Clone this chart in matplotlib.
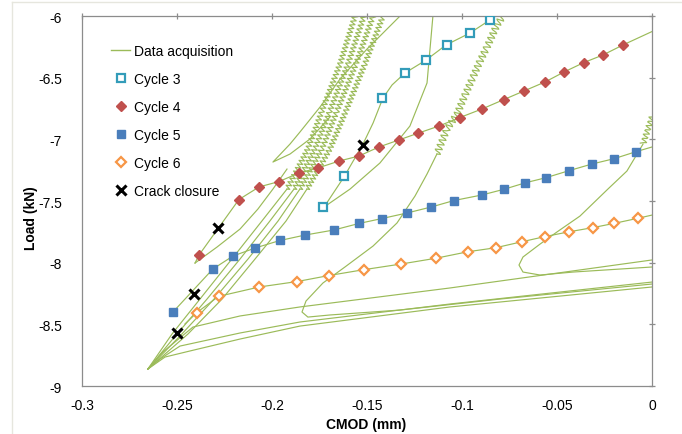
import matplotlib
matplotlib.use('Agg')
import matplotlib.pyplot as plt
from matplotlib.lines import Line2D

plt.rcParams['font.family'] = ['Liberation Sans', 'DejaVu Sans']
plt.rcParams['axes.unicode_minus'] = False

# ---- cycle markers (CMOD in mm, load in kN) ----
cyc3_x = [-0.173, -0.162, -0.142, -0.130, -0.119, -0.108, -0.096, -0.085]
cyc3_y = [-7.55, -7.30, -6.665, -6.46, -6.36, -6.235, -6.14, -6.03]

cyc4_x = [-0.2384, -0.2174, -0.2068, -0.1963, -0.1858, -0.1758, -0.1647, -0.1542,
          -0.1437, -0.1332, -0.1229, -0.1121, -0.1011, -0.0895, -0.0779, -0.0674,
          -0.0563, -0.0463, -0.0358, -0.0258, -0.0153]
cyc4_y = [-7.938, -7.488, -7.386, -7.342, -7.273, -7.232, -7.176, -7.135,
          -7.062, -7.005, -6.949, -6.892, -6.823, -6.754, -6.677, -6.608,
          -6.535, -6.454, -6.377, -6.316, -6.235]

cyc5_x = [-0.2521, -0.2311, -0.2205, -0.2089, -0.1958, -0.1826, -0.1674, -0.1542,
          -0.1421, -0.1289, -0.1163, -0.1042, -0.0895, -0.0779, -0.0666, -0.0558,
          -0.0437, -0.0316, -0.0200, -0.0084]
cyc5_y = [-8.400, -8.051, -7.946, -7.881, -7.820, -7.776, -7.735, -7.682,
          -7.642, -7.597, -7.549, -7.496, -7.451, -7.405, -7.352, -7.311,
          -7.254, -7.200, -7.157, -7.100]

cyc6_x = [-0.2395, -0.2281, -0.2067, -0.1868, -0.1700, -0.1518, -0.1321, -0.1137,
          -0.0968, -0.0823, -0.0684, -0.0565, -0.0435, -0.0312, -0.0198, -0.0074]
cyc6_y = [-8.404, -8.273, -8.197, -8.153, -8.104, -8.057, -8.011, -7.964,
          -7.911, -7.879, -7.830, -7.789, -7.749, -7.716, -7.681, -7.640]

closure_x = [-0.1521, -0.2283, -0.2412, -0.2502]
closure_y = [-7.046, -7.721, -8.252, -8.570]

# ---- raw acquisition traces ----
acq3_x = [-0.1726, -0.1621, -0.1521, -0.1468, -0.1416, -0.1368, -0.1300, -0.1189,
          -0.1084, -0.0958, -0.0853, -0.0816]
acq3_y = [-7.549, -7.305, -7.038, -6.868, -6.665, -6.559, -6.462, -6.357,
          -6.235, -6.138, -6.032, -5.992]
acq3b_x = [-0.1726, -0.1589, -0.1432, -0.1274, -0.1184, -0.1153]
acq3b_y = [-7.549, -7.403, -7.192, -6.892, -6.543, -6.0]

acq4_x = [-0.2405] + cyc4_x + [0.0]
acq4_y = [-8.003] + cyc4_y + [-6.126]
acq4b_x = [-0.2405, -0.2289, -0.2168, -0.2074, -0.1995, -0.1921]
acq4b_y = [-8.003, -7.873, -7.727, -7.565, -7.403, -7.241]

acq5_x = [-0.2537] + cyc5_x + [0.0]
acq5_y = [-8.432] + cyc5_y + [-7.062]

acq6_x = [-0.2458] + cyc6_x + [0.0]
acq6_y = [-8.497] + cyc6_y + [-7.614]

low1_x = [-0.2653, -0.2574, -0.2416, -0.2168, -0.1853, -0.1063, 0.0]
low1_y = [-8.862, -8.724, -8.522, -8.432, -8.359, -8.205, -7.978]
low2_x = [-0.2653, -0.2589, -0.2484, -0.2168, -0.1853, -0.1063, 0.0]
low2_y = [-8.862, -8.781, -8.676, -8.570, -8.481, -8.335, -8.157]
low3_x = [-0.2653, -0.2563, -0.2432, -0.2168, -0.1853, -0.1063, 0.0]
low3_y = [-8.862, -8.765, -8.716, -8.619, -8.514, -8.359, -8.197]

# steep reloading band starting at the minimum load point
band_y = [-8.862, -8.578, -8.295, -7.970, -7.662, -7.403, -7.078, -6.770, -6.389, -6.0]
band1_x = [-0.2653, -0.2526, -0.2379, -0.2211, -0.2053, -0.1921, -0.1811, -0.1737, -0.1642, -0.1563]
band2_x = [-0.2653, -0.2500, -0.2342, -0.2168, -0.2011, -0.1884, -0.1774, -0.1695, -0.1600, -0.1516]
band3_x = [-0.2653, -0.2474, -0.2305, -0.2126, -0.1968, -0.1853, -0.1737, -0.1658, -0.1558, -0.1468]
band4_x = [-0.2653, -0.2442, -0.2263, -0.2089, -0.1926, -0.1816, -0.1695, -0.1611, -0.1511, -0.1416]

spike_x = [-0.1695, -0.1800, -0.1905, -0.1995, -0.1905, -0.1853, -0.1747, -0.1642, -0.1500, -0.1326]
spike_y = [-6.819, -6.997, -7.119, -7.184, -7.038, -6.941, -6.738, -6.511, -6.268, -6.0]

loopb_x = [0.0, -0.0800, -0.1326, -0.1695, -0.1811, -0.1842, -0.1821, -0.1732, -0.1616,
           -0.1468, -0.1342, -0.1247, -0.1184, -0.1132, -0.1079, -0.1026, -0.0984,
           -0.0942, -0.0905, -0.0868, -0.0816, -0.0784]
loopb_y = [-8.173, -8.295, -8.384, -8.424, -8.441, -8.400, -8.311, -8.165, -8.035,
           -7.865, -7.678, -7.459, -7.281, -7.119, -6.916, -6.795, -6.641,
           -6.495, -6.365, -6.251, -6.073, -6.0]

loopa_x = [0.0, -0.0047, -0.0132, -0.0232, -0.0379, -0.0500, -0.0589, -0.0679,
           -0.0700, -0.0679, -0.0589, -0.0416, 0.0]
loopa_y = [-6.819, -7.038, -7.257, -7.403, -7.622, -7.751, -7.849, -7.954,
           -8.019, -8.076, -8.100, -8.076, -8.035]

xticks = [-0.3, -0.25, -0.2, -0.15, -0.1, -0.05, 0.0]
xtick_labels = ['-0.3', '-0.25', '-0.2', '-0.15', '-0.1', '-0.05', '0']
yticks = [-9, -8.5, -8, -7.5, -7, -6.5, -6]
ytick_labels = ['-9', '-8.5', '-8', '-7.5', '-7', '-6.5', '-6']

GREEN = '#9BBB59'
GREY = '#8C8C8C'

fig = plt.figure(figsize=(6.82, 4.35), dpi=100)
ax = fig.add_axes([0.1202, 0.1103, 0.8358, 0.8506])


def trace(xs, ys, zig_from=None, zig_to=None, wiggle=(3.0, 4.5)):
    # smooth part, then the noisy oscillating part drawn with a sketch wiggle
    if zig_from is None:
        ax.plot(xs, ys, color=GREEN, lw=0.85, zorder=2)
        return
    if zig_from > 0:
        ax.plot(xs[:zig_from + 1], ys[:zig_from + 1], color=GREEN, lw=0.85, zorder=2)
    end = len(xs) if zig_to is None else zig_to + 1
    line, = ax.plot(xs[zig_from:end], ys[zig_from:end], color=GREEN, lw=0.85, zorder=2)
    line.set_sketch_params(wiggle[0], wiggle[1], 1.0)
    if zig_to is not None:
        ax.plot(xs[zig_to:], ys[zig_to:], color=GREEN, lw=0.85, zorder=2)


trace(acq3_x, acq3_y)
trace(acq3b_x, acq3b_y)
trace(acq4_x, acq4_y)
trace(acq4b_x, acq4b_y)
trace(acq5_x, acq5_y)
trace(acq6_x, acq6_y)
trace(low1_x, low1_y)
trace(low2_x, low2_y)
trace(low3_x, low3_y)
for bx in (band1_x, band2_x, band3_x, band4_x):
    trace(bx, band_y, zig_from=5, wiggle=(2.6, 4.0))
trace(spike_x, spike_y)
trace(loopb_x, loopb_y, zig_from=13, wiggle=(3.6, 5.0))
trace(loopa_x, loopa_y, zig_from=0, zig_to=1)

ax.plot(cyc3_x, cyc3_y, ls='none', marker='s', ms=6, mfc='white', mec='#339CB9',
        mew=1.6, zorder=4, label='Cycle 3')
ax.plot(cyc4_x, cyc4_y, ls='none', marker='D', ms=5, mfc='#C0504D', mec='#C0504D',
        zorder=4, label='Cycle 4')
ax.plot(cyc5_x, cyc5_y, ls='none', marker='s', ms=6, mfc='#4A7EBB', mec='#4A7EBB',
        zorder=4, label='Cycle 5')
ax.plot(cyc6_x, cyc6_y, ls='none', marker='D', ms=4.8, mfc='white', mec='#F79646',
        mew=1.6, zorder=4, label='Cycle 6')
ax.plot(closure_x, closure_y, ls='none', marker='x', ms=7, mec='black', mew=2.2,
        zorder=5, label='Crack closure')

ax.set_xlim(-0.3, 0)
ax.set_ylim(-9, -6)
ax.set_xticks(xticks)
ax.set_xticklabels(xtick_labels)
ax.set_yticks(yticks)
ax.set_yticklabels(ytick_labels)

for sp in ax.spines.values():
    sp.set_color(GREY)
    sp.set_linewidth(0.9)

ax.tick_params(axis='x', bottom=False, top=True, labelbottom=True, labeltop=False,
               direction='inout', length=5, width=0.9, color=GREY, labelsize=10, pad=6)
ax.tick_params(axis='y', left=False, right=True, labelleft=True, labelright=False,
               direction='inout', length=5, width=0.9, color=GREY, labelsize=10, pad=12)

ax.set_xlabel('CMOD (mm)', fontsize=10, fontweight='bold')
ax.set_ylabel('Load (kN)', fontsize=10, fontweight='bold')
ax.xaxis.set_label_coords(0.498, -0.083)
ax.yaxis.set_label_coords(-0.077, 0.457)

handles = [Line2D([], [], color=GREEN, lw=1.0)] + ax.get_lines()[-5:]
labels = ['Data acquisition', 'Cycle 3', 'Cycle 4', 'Cycle 5', 'Cycle 6', 'Crack closure']
ax.legend(handles, labels, loc='upper left', bbox_to_anchor=(0.051, 0.924),
          frameon=False, fontsize=10, borderpad=0, borderaxespad=0,
          handlelength=1.4, handletextpad=0.25, labelspacing=1.0, numpoints=1)

# light chart-area border
fig.add_artist(Line2D([12 / 682, 12 / 682], [0, 1 - 3 / 435], transform=fig.transFigure,
                      color='#E6E6DE', lw=1))
fig.add_artist(Line2D([12 / 682, 1], [1 - 3 / 435, 1 - 3 / 435], transform=fig.transFigure,
                      color='#E6E6DE', lw=1))

fig.savefig('out.png', dpi=100)
